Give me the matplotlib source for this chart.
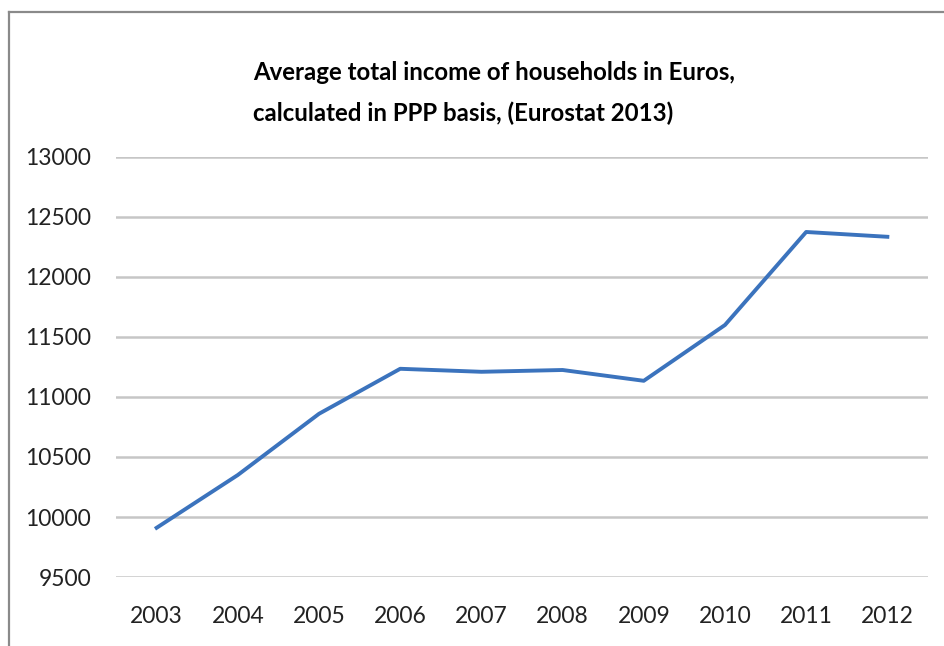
import matplotlib
matplotlib.use('Agg')
import matplotlib.pyplot as plt
from matplotlib.lines import Line2D

years = ['2003', '2004', '2005', '2006', '2007', '2008', '2009', '2010', '2011', '2012']
income = [9910, 10350, 10860, 11235, 11210, 11225, 11135, 11600, 12375, 12335]
yticks = [9500, 10000, 10500, 11000, 11500, 12000, 12500, 13000]

plt.rcParams['font.family'] = ['Lato', 'DejaVu Sans']

fig = plt.figure(figsize=(9.44, 6.46), dpi=100)
ax = fig.add_axes([0.1229, 0.1068, 0.8601, 0.6502])

x = range(len(years))
ax.plot(x, income, color='#3b73bd', lw=2.8, solid_joinstyle='round')

ax.set_xlim(-0.5, len(years) - 0.5)
ax.set_ylim(9500, 13000)
ax.set_yticks(yticks)
ax.set_xticks(list(x))
ax.set_xticklabels(years)
ax.grid(axis='y', color='#c6c6c6', lw=1.8)
ax.set_axisbelow(True)
for s in ax.spines.values():
    s.set_visible(False)
ax.tick_params(length=0, labelsize=16.5, colors='#222222')
ax.tick_params(axis='y', pad=18)
ax.tick_params(axis='x', pad=21)

fig.text(0.268, 0.887, 'Average total income of households in Euros,',
         fontsize=17.3, fontweight='bold', ha='left', va='center')
fig.text(0.268, 0.825, 'calculated in PPP basis, (Eurostat 2013)',
         fontsize=17.3, fontweight='bold', ha='left', va='center')

# outer frame (top and left edges visible)
fig.add_artist(Line2D([0.0095, 1.0], [0.982, 0.982], color='#8a8a8a', lw=1.6,
                      transform=fig.transFigure))
fig.add_artist(Line2D([0.0095, 0.0095], [0.0, 0.982], color='#8a8a8a', lw=1.6,
                      transform=fig.transFigure))

fig.savefig('out.png', dpi=100, facecolor='white')
